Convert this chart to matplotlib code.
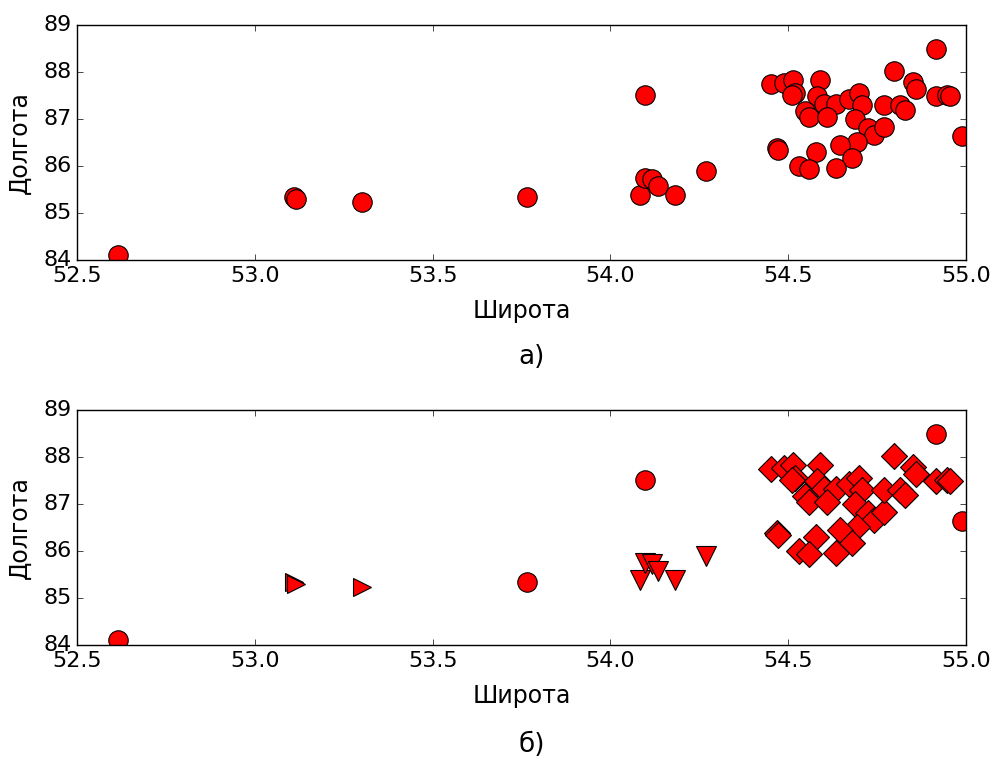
import matplotlib
matplotlib.use("Agg")
import matplotlib.pyplot as plt

plt.style.use("classic")

# point coordinates: latitude (x), longitude (y)
lat = [52.615, 53.110, 53.115, 53.300,
       53.765, 54.097, 54.915, 54.988,
       54.082, 54.098, 54.116, 54.133, 54.182, 54.269,
       54.452, 54.487, 54.513, 54.518, 54.510, 54.588, 54.580, 54.600,
       54.634, 54.547, 54.558, 54.610, 54.670, 54.700, 54.708, 54.687,
       54.725, 54.740, 54.770, 54.693, 54.646, 54.678, 54.578, 54.468,
       54.470, 54.530, 54.559, 54.633, 54.796, 54.852, 54.860, 54.770,
       54.814, 54.828, 54.916, 54.946, 54.955]
lon = [84.11, 85.34, 85.30, 85.23,
       85.34, 87.51, 88.50, 86.64,
       85.38, 85.74, 85.72, 85.57, 85.38, 85.90,
       87.74, 87.76, 87.84, 87.56, 87.51, 87.83, 87.50, 87.32,
       87.32, 87.17, 87.04, 87.04, 87.43, 87.55, 87.30, 87.01,
       86.81, 86.66, 86.84, 86.52, 86.45, 86.16, 86.30, 86.38,
       86.34, 85.99, 85.93, 85.95, 88.03, 87.79, 87.64, 87.30,
       87.30, 87.19, 87.49, 87.51, 87.49]
# cluster of each point for panel б): -1 noise, 0/1/2 clusters
label = [-1, 0, 0, 0,
         -1, -1, -1, -1,
         1, 1, 1, 1, 1, 1] + [2] * 37

markers = {-1: "o", 0: ">", 1: "v", 2: "D"}
sizes = {-1: 14, 0: 13, 1: 14, 2: 13.5}

xticks = [52.5, 53.0, 53.5, 54.0, 54.5, 55.0]
yticks = [84, 85, 86, 87, 88, 89]

fig = plt.figure(figsize=(9.94, 7.6), dpi=100, facecolor="white")
ax1 = fig.add_axes([0.0775, 0.6579, 0.8944, 0.3092])
ax2 = fig.add_axes([0.0775, 0.1513, 0.8944, 0.3092])

ax1.plot(lat, lon, "o", color="red", markersize=14, markeredgecolor="black",
         markeredgewidth=0.8)

for k in [-1, 0, 1, 2]:
    xs = [a for a, c in zip(lat, label) if c == k]
    ys = [b for b, c in zip(lon, label) if c == k]
    ax2.plot(xs, ys, markers[k], color="red", markersize=sizes[k],
             markeredgecolor="black", markeredgewidth=0.8)

for ax in (ax1, ax2):
    ax.set_xlim(52.5, 55.0)
    ax.set_ylim(84, 89)
    ax.set_xticks(xticks)
    ax.set_yticks(yticks)
    ax.tick_params(labelsize=16)
    ax.set_xlabel("Широта", fontsize=17, labelpad=10)
    ax.set_ylabel("Долгота", fontsize=17, labelpad=8)

fig.text(0.535, 0.53, "а)", fontsize=19, ha="center", va="center")
fig.text(0.535, 0.02, "б)", fontsize=19, ha="center", va="center")

fig.savefig("out.png", dpi=100, facecolor="white")
